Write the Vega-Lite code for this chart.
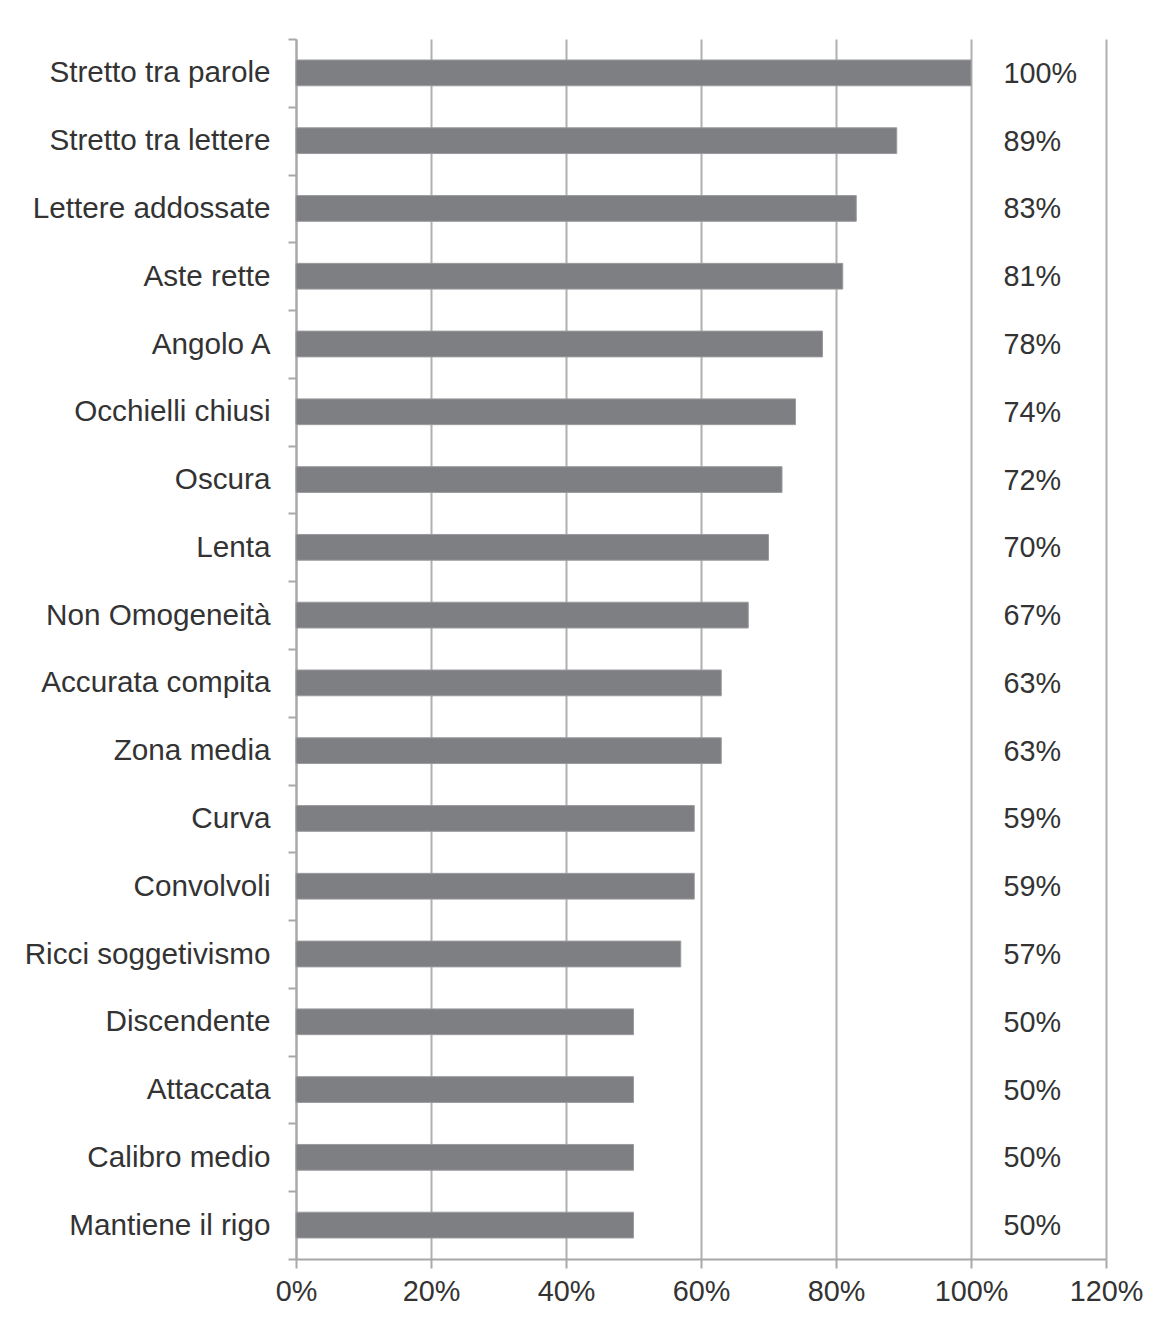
{
  "$schema": "https://vega.github.io/schema/vega-lite/v6.json",
  "width": 810,
  "height": 1220,
  "padding": {"left": 0, "top": 24, "right": 0, "bottom": 0},
  "background": "white",
  "config": {
    "view": {"stroke": null},
    "font": "Liberation Sans",
    "axis": {"labelFont": "Liberation Sans", "labelColor": "#333333", "labelFontSize": 29}
  },
  "data": {
    "values": [
      {"categoria": "Stretto tra parole", "valore": 1.00},
      {"categoria": "Stretto tra lettere", "valore": 0.89},
      {"categoria": "Lettere addossate", "valore": 0.83},
      {"categoria": "Aste rette", "valore": 0.81},
      {"categoria": "Angolo A", "valore": 0.78},
      {"categoria": "Occhielli chiusi", "valore": 0.74},
      {"categoria": "Oscura", "valore": 0.72},
      {"categoria": "Lenta", "valore": 0.70},
      {"categoria": "Non Omogeneità", "valore": 0.67},
      {"categoria": "Accurata compita", "valore": 0.63},
      {"categoria": "Zona media", "valore": 0.63},
      {"categoria": "Curva", "valore": 0.59},
      {"categoria": "Convolvoli", "valore": 0.59},
      {"categoria": "Ricci soggetivismo", "valore": 0.57},
      {"categoria": "Discendente", "valore": 0.50},
      {"categoria": "Attaccata", "valore": 0.50},
      {"categoria": "Calibro medio", "valore": 0.50},
      {"categoria": "Mantiene il rigo", "valore": 0.50}
    ]
  },
  "encoding": {
    "y": {
      "field": "categoria",
      "type": "nominal",
      "sort": null,
      "title": null,
      "scale": {"paddingInner": 0, "paddingOuter": 0},
      "axis": {
        "tickBand": "extent",
        "tickSize": 8,
        "tickColor": "#a8a8a8",
        "tickWidth": 2,
        "domainColor": "#a8a8a8",
        "domainWidth": 2,
        "labelPadding": 18,
        "labelFontSize": 29.7,
        "labelLimit": 400,
        "minExtent": 296,
        "maxExtent": 296,
        "grid": false
      }
    }
  },
  "layer": [
    {
      "mark": {"type": "bar", "color": "#7e7f83", "stroke": "#9a9b9e", "strokeWidth": 1, "height": {"band": 0.38}},
      "encoding": {
        "x": {
          "field": "valore",
          "type": "quantitative",
          "title": null,
          "scale": {"domain": [0, 1.2], "nice": false},
          "axis": {
            "values": [0, 0.2, 0.4, 0.6, 0.8, 1.0, 1.2],
            "format": ".0%",
            "grid": true,
            "gridColor": "#b0b0b0",
            "gridWidth": 2,
            "tickSize": 9,
            "tickColor": "#a8a8a8",
            "tickWidth": 2,
            "domainColor": "#a8a8a8",
            "domainWidth": 2,
            "labelPadding": 9,
            "labelFontSize": 28.8,
            "labelFlush": false
          }
        }
      }
    },
    {
      "mark": {"type": "text", "align": "left", "baseline": "middle", "fontSize": 28.8, "color": "#333333", "font": "Liberation Sans", "dy": 1},
      "encoding": {
        "x": {"datum": 1.048, "type": "quantitative"},
        "text": {"field": "valore", "type": "quantitative", "format": ".0%"}
      }
    }
  ]
}
